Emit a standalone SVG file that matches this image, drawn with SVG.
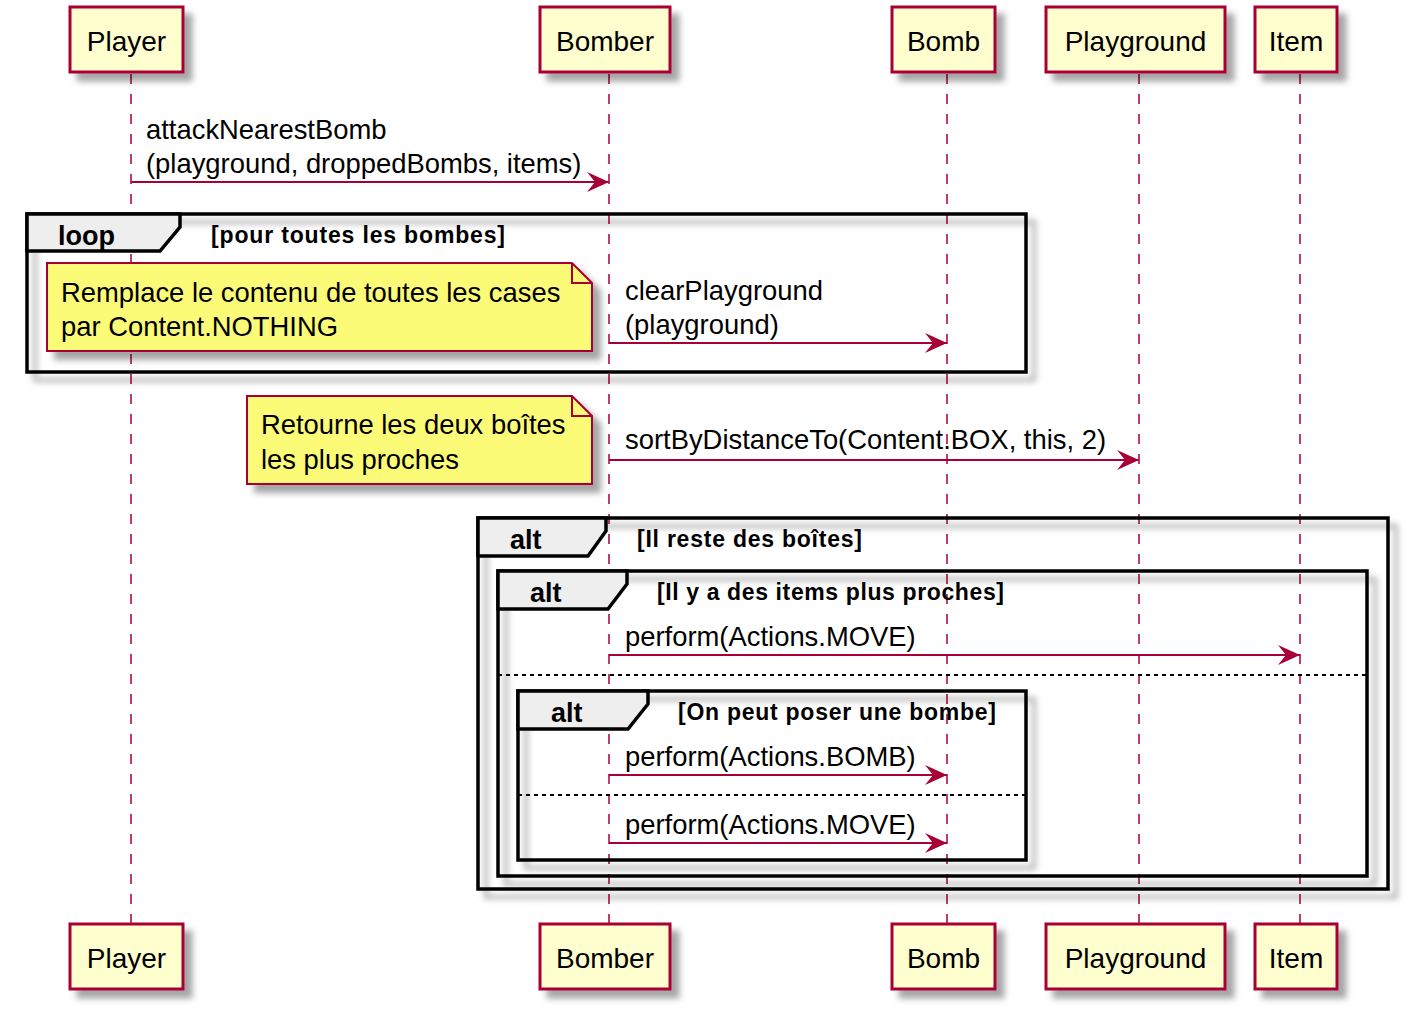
<svg xmlns="http://www.w3.org/2000/svg" width="1410" height="1012" viewBox="0 0 1410 1012">
<defs>
<filter id="sh" x="-10%" y="-10%" width="130%" height="140%">
<feGaussianBlur in="SourceAlpha" stdDeviation="3"/>
<feOffset dx="8" dy="8" result="b"/>
<feFlood flood-color="#000" flood-opacity="0.35"/>
<feComposite in2="b" operator="in"/>
<feMerge><feMergeNode/><feMergeNode in="SourceGraphic"/></feMerge>
</filter>
<marker id="ah" viewBox="0 0 22 20" refX="22" refY="10" markerWidth="22" markerHeight="20" markerUnits="userSpaceOnUse" orient="auto">
<polygon points="0,0 22,10 0,20 8,10" fill="#A80036"/>
</marker>
</defs>
<style>
.part{fill:#FEFECE;stroke:#A80036;stroke-width:3}
.pt{font-family:"Liberation Sans",Arial,sans-serif;font-size:28px;fill:#000}
.life{stroke:#A80036;stroke-width:1.5;stroke-dasharray:10,10;fill:none}
.msg{stroke:#A80036;stroke-width:2;fill:none;marker-end:url(#ah)}
.mt{font-family:"Liberation Sans",Arial,sans-serif;font-size:27.4px;fill:#000}
.frame{fill:none;stroke:#000;stroke-width:3.5}
.tab{fill:#EEEEEE;stroke:#000;stroke-width:3.5}
.ft{font-family:"Liberation Sans",Arial,sans-serif;font-size:27px;font-weight:bold;fill:#000}
.ct{font-family:"Liberation Sans",Arial,sans-serif;font-size:23px;font-weight:bold;fill:#000}
.sep{stroke:#000;stroke-width:2;stroke-dasharray:4,4}
.note{fill:#FBFB77;stroke:#A80036;stroke-width:2}
</style>

<g id="lifelines">
<line class="life" x1="131" y1="74" x2="131" y2="924"/>
<line class="life" x1="609" y1="74" x2="609" y2="924"/>
<line class="life" x1="947" y1="74" x2="947" y2="924"/>
<line class="life" x1="1139" y1="74" x2="1139" y2="924"/>
<line class="life" x1="1300" y1="74" x2="1300" y2="924"/>
</g>

<g id="loop1" filter="url(#sh)">
<rect x="27" y="214" width="999" height="158" fill="none" stroke="#000" stroke-width="3.5"/>
</g>
<g id="loop1-head">
<path class="tab" d="M27,214 L180,214 L180,227 L160,251 L27,251 Z"/>
<text class="ft" x="58" y="245">loop</text>
<text class="ct" x="211" y="243" textLength="294" lengthAdjust="spacing">[pour toutes les bombes]</text>
</g>

<g id="alt1" filter="url(#sh)">
<rect x="478" y="518" width="910" height="371" fill="none" stroke="#000" stroke-width="3.5"/>
</g>
<g id="alt1-head">
<path class="tab" d="M478,518 L606,518 L606,531 L588,556 L478,556 Z"/>
<text class="ft" x="510" y="549">alt</text>
<text class="ct" x="637" y="547" textLength="225" lengthAdjust="spacing">[Il reste des boîtes]</text>
</g>

<g id="alt2" filter="url(#sh)">
<rect x="498" y="571" width="869" height="305" fill="none" stroke="#000" stroke-width="3.5"/>
</g>
<g id="alt2-head">
<path class="tab" d="M498,571 L627,571 L627,584 L608,609 L498,609 Z"/>
<text class="ft" x="530" y="602">alt</text>
<text class="ct" x="657" y="600" textLength="347" lengthAdjust="spacing">[Il y a des items plus proches]</text>
<line class="sep" x1="498" y1="675" x2="1367" y2="675"/>
</g>

<g id="alt3" filter="url(#sh)">
<rect x="518" y="691" width="508" height="169" fill="none" stroke="#000" stroke-width="3.5"/>
</g>
<g id="alt3-head">
<path class="tab" d="M518,691 L648,691 L648,704 L628,729 L518,729 Z"/>
<text class="ft" x="551" y="722">alt</text>
<text class="ct" x="678" y="720" textLength="318" lengthAdjust="spacing">[On peut poser une bombe]</text>
<line class="sep" x1="518" y1="795" x2="1026" y2="795"/>
</g>

<g id="note1">
<path class="note" filter="url(#sh)" d="M47,263 L572,263 L592,283 L592,351 L47,351 Z"/>
<path d="M572,263 L572,283 L592,283" fill="none" stroke="#A80036" stroke-width="2"/>
<text class="mt" x="61" y="302">Remplace le contenu de toutes les cases</text>
<text class="mt" x="61" y="336">par Content.NOTHING</text>
</g>

<g id="note2">
<path class="note" filter="url(#sh)" d="M247,396 L572,396 L592,416 L592,484 L247,484 Z"/>
<path d="M572,396 L572,416 L592,416" fill="none" stroke="#A80036" stroke-width="2"/>
<text class="mt" x="261" y="434">Retourne les deux boîtes</text>
<text class="mt" x="261" y="469">les plus proches</text>
</g>

<g id="connectors">
<line class="msg" x1="131" y1="182" x2="609" y2="182"/>
<text class="mt" x="146" y="139">attackNearestBomb</text>
<text class="mt" x="146" y="173">(playground, droppedBombs, items)</text>
<line class="msg" x1="609" y1="343" x2="947" y2="343"/>
<text class="mt" x="625" y="300">clearPlayground</text>
<text class="mt" x="625" y="334">(playground)</text>
<line class="msg" x1="609" y1="460" x2="1139" y2="460"/>
<text class="mt" x="625" y="449">sortByDistanceTo(Content.BOX, this, 2)</text>
<line class="msg" x1="609" y1="655" x2="1300" y2="655"/>
<text class="mt" x="625" y="646">perform(Actions.MOVE)</text>
<line class="msg" x1="609" y1="775" x2="947" y2="775"/>
<text class="mt" x="625" y="766">perform(Actions.BOMB)</text>
<line class="msg" x1="609" y1="843" x2="947" y2="843"/>
<text class="mt" x="625" y="834">perform(Actions.MOVE)</text>
</g>

<g id="Player">
<rect class="part" filter="url(#sh)" x="70" y="7" width="113" height="65"/>
<text class="pt" x="126.5" y="51" text-anchor="middle">Player</text>
<rect class="part" filter="url(#sh)" x="70" y="924" width="113" height="65"/>
<text class="pt" x="126.5" y="968" text-anchor="middle">Player</text>
</g>
<g id="Bomber">
<rect class="part" filter="url(#sh)" x="540" y="7" width="130" height="65"/>
<text class="pt" x="605" y="51" text-anchor="middle">Bomber</text>
<rect class="part" filter="url(#sh)" x="540" y="924" width="130" height="65"/>
<text class="pt" x="605" y="968" text-anchor="middle">Bomber</text>
</g>
<g id="Bomb">
<rect class="part" filter="url(#sh)" x="892" y="7" width="103" height="65"/>
<text class="pt" x="943.5" y="51" text-anchor="middle">Bomb</text>
<rect class="part" filter="url(#sh)" x="892" y="924" width="103" height="65"/>
<text class="pt" x="943.5" y="968" text-anchor="middle">Bomb</text>
</g>
<g id="Playground">
<rect class="part" filter="url(#sh)" x="1046" y="7" width="179" height="65"/>
<text class="pt" x="1135.5" y="51" text-anchor="middle">Playground</text>
<rect class="part" filter="url(#sh)" x="1046" y="924" width="179" height="65"/>
<text class="pt" x="1135.5" y="968" text-anchor="middle">Playground</text>
</g>
<g id="Item">
<rect class="part" filter="url(#sh)" x="1255" y="7" width="82" height="65"/>
<text class="pt" x="1296" y="51" text-anchor="middle">Item</text>
<rect class="part" filter="url(#sh)" x="1255" y="924" width="82" height="65"/>
<text class="pt" x="1296" y="968" text-anchor="middle">Item</text>
</g>
</svg>
